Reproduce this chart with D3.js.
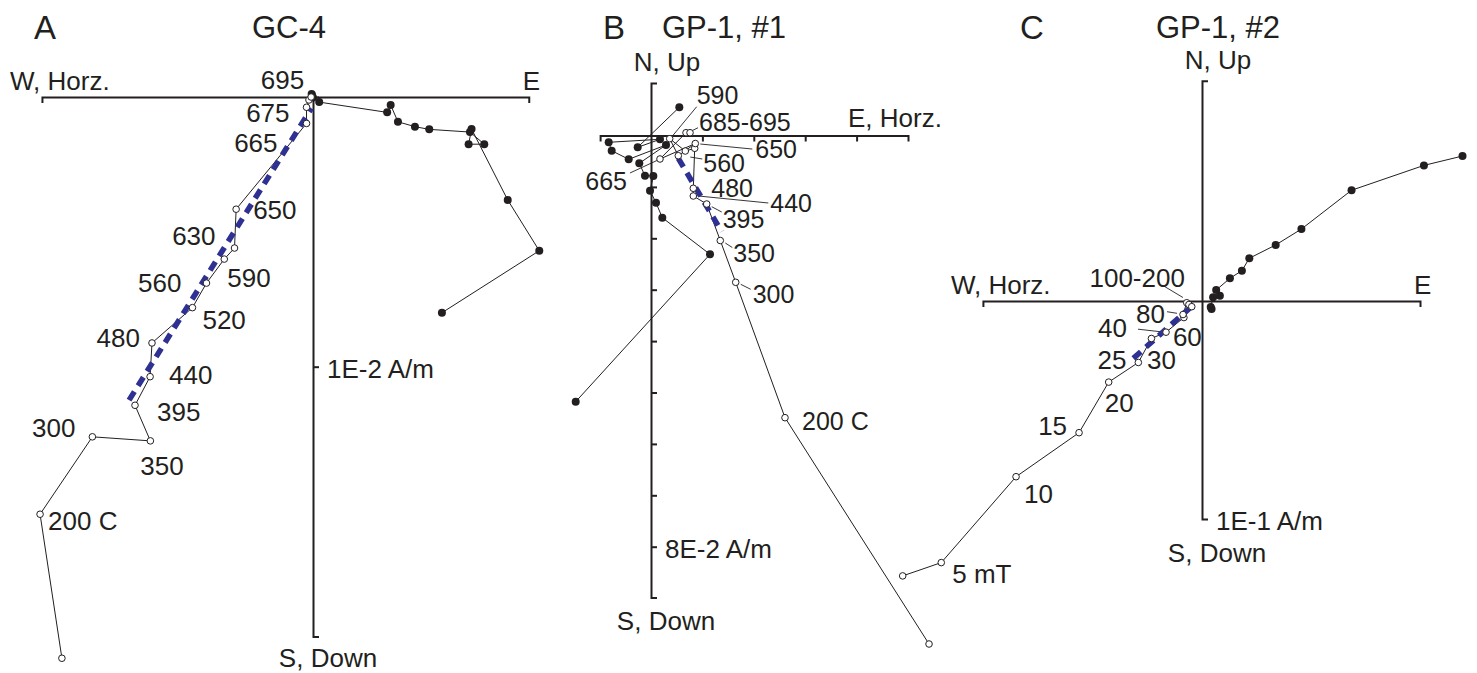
<!DOCTYPE html>
<html lang="en">
<head>
<meta charset="UTF-8">
<title>Orthogonal demagnetization diagrams</title>
<style>
  body { margin: 0; background: #fff; }
  svg { display: block; font-family: 'Liberation Sans', Arial, Helvetica, sans-serif; }
  text { fill: #231f20; }
</style>
</head>
<body>
<script src="https://d3js.org/d3.v7.min.js"></script>
<script>
  // ---- A: GC-4, thermal steps (units of 1E-3 A/m) ----
  const stepsA = ['NRM','200','300','350','395','440','480','520','560','590','630','650','665','675','685','695'];
  // filled = horizontal projection [E, N]
  const horizA = [[4.78,-8.00],[8.39,-5.70],[7.22,-3.82],[5.88,-1.19],[5.77,-1.75],[6.35,-1.75],[5.82,-1.30],
    [4.31,-1.20],[3.78,-1.10],[3.15,-0.92],[2.88,-0.30],[2.75,-0.57],[0.23,-0.19],[0.00,-0.02],[-0.04,0.07],[-0.05,0.11]];
  // open = vertical projection [Horz, Up]
  const vertA = [[-9.31,-20.81],[-10.12,-15.47],[-8.18,-12.60],[-6.03,-12.75],[-6.60,-11.43],[-6.04,-10.37],[-5.97,-9.12],
    [-4.47,-7.81],[-3.95,-6.90],[-3.29,-6.01],[-2.91,-5.60],[-2.85,-4.16],[-0.24,-0.98],[-0.24,-0.38],[-0.15,-0.11],[-0.07,0.0]];
  const fitA = [[-6.82,-11.24],[-0.06,-0.42]];

  // ---- B: GP-1 #1, thermal steps (units of 1E-2 A/m) ----
  const stepsB = ['NRM','200','300','350','395','440','480','520','560','590','630','650','665','685','695'];
  const horizB = [[-1.465,-5.179],[1.148,-2.311],[0.220,-1.599],[0.097,-1.307],[-0.019,-1.074],[0.045,-0.788],[-0.117,-0.782],
    [-0.228,-0.541],[0.292,-0.185],[-0.434,-0.463],[-0.765,-0.296],[-0.823,-0.132],[0.175,-0.074],[-0.259,-0.230],[0.551,0.549]];
  const vertB = [[5.409,-9.893],[2.607,-5.490],[1.648,-2.856],[1.348,-2.043],[1.084,-1.333],[0.823,-1.177],[0.823,-1.027],
    [0.850,-0.249],[0.667,-0.302],[0.364,-0.062],[0.531,-0.393],[0.862,-0.156],[0.175,-0.457],[0.681,0.054],[0.759,0.054]];
  const fitB = [[0.531,-0.444],[1.375,-1.872]];

  // ---- C: GP-1 #2, AF steps in mT (units of 1E-1 A/m) ----
  const stepsC = ['NRM','5','10','15','20','25','30','40','60','80','100','150','200'];
  const horizC = [[1.195,0.665],[1.018,0.622],[0.686,0.508],[0.456,0.330],[0.338,0.257],[0.217,0.196],[0.183,0.139],
    [0.128,0.104],[0.065,0.050],[0.082,0.024],[0.051,0.017],[0.040,-0.028],[0.044,-0.037]];
  const vertC = [[-1.373,-1.261],[-1.196,-1.200],[-0.853,-0.806],[-0.564,-0.604],[-0.428,-0.372],[-0.292,-0.282],[-0.232,-0.172],
    [-0.165,-0.143],[-0.083,-0.076],[-0.087,-0.062],[-0.070,-0.008],[-0.060,-0.016],[-0.047,-0.026]];
  const fitC = [[-0.315,-0.263],[-0.032,-0.011]];

  const INK = '#231f20', BLUE = '#2e3192';

  // step labels: i = index of open point, offset in px, anchor, optional leader [x1,y1,x2,y2]
  const labelsA = [
    {t:'695', i:15, dx:-7, dy:-17, a:'end'}, {t:'675', i:13, dx:-17, dy:6, a:'end'},
    {t:'665', i:12, dx:-29, dy:19, a:'end'}, {t:'650', i:11, dx:17, dy:1, a:'start'},
    {t:'630', i:10, dx:-19, dy:-12, a:'end'}, {t:'590', i:9, dx:3, dy:19, a:'start'},
    {t:'560', i:8, dx:-25, dy:0, a:'end'}, {t:'520', i:7, dx:10, dy:12, a:'start'},
    {t:'480', i:6, dx:-12, dy:-5, a:'end'}, {t:'440', i:5, dx:19, dy:-2, a:'start'},
    {t:'395', i:4, dx:22, dy:7, a:'start'}, {t:'350', i:3, dx:-10, dy:25, a:'start'},
    {t:'300', i:2, dx:-17, dy:-9, a:'end'}, {t:'200 C', i:1, dx:8, dy:7, a:'start'}
  ];
  const labelsB = [
    {t:'200 C', i:1, dx:17, dy:4, a:'start'},
    {t:'300', i:2, dx:17, dy:12, a:'start', l:[5,2,15,7]},
    {t:'350', i:3, dx:13, dy:12.5, a:'start', l:[5,2.5,12,7]},
    {t:'395', i:4, dx:16, dy:15, a:'start', l:[5,2.7,15,8]},
    {t:'440', i:5, dx:77, dy:7, a:'start', l:[5,0,75,7]},
    {t:'480', i:6, dx:18, dy:0, a:'start'},
    {t:'560', i:8, dx:18, dy:12, a:'start', l:[5,6,17,8]},
    {t:'590', i:9, dx:27, dy:-43, a:'start', l:[3,-3,27,-32]},
    {t:'650', i:11, dx:60, dy:5.5, a:'start', l:[5,0.5,57,5.5]},
    {t:'665', i:12, dx:-33, dy:22, a:'end', l:[-2,1,-30,14]},
    {t:'685-695', i:14, dx:9, dy:-10, a:'start', l:[2,-2,8,-5]}
  ];
  const labelsC = [
    {t:'5 mT', i:1, dx:11, dy:11, a:'start'}, {t:'10', i:2, dx:8, dy:17, a:'start'},
    {t:'15', i:3, dx:-12, dy:-7, a:'end'}, {t:'20', i:4, dx:-4, dy:21, a:'start'},
    {t:'25', i:5, dx:-12, dy:-2.5, a:'end'}, {t:'30', i:6, dx:-4.5, dy:21.5, a:'start'},
    {t:'40', i:7, dx:-39, dy:-4, a:'end', l:[-6,-0.5,-28,-3]},
    {t:'60', i:8, dx:-11, dy:19, a:'start'},
    {t:'80', i:9, dx:-18, dy:-1, a:'end', l:[-6,-1.2,-16,-2.8]},
    {t:'100-200', i:11, dx:-4, dy:-27, a:'end', l:[-6,-7,-26,-19]}
  ];

  const panels = [
    { letter:'A', title:'GC-4', ox:313, oy:97, k:26.97, xDom:[-10.05,8.0], yDom:[-20,0],
      xTicks:[], yTicks:[-10], horiz:horizA, vert:vertA, fit:fitA, labels:labelsA, labelSize:26, unit:'1E-2 A/m', unitAt:-10,
      letterX:34, titleX:289, west:'W, Horz.', east:'E', north:null, south:'S, Down', southGap:21 },
    { letter:'B', title:'GP-1, #1', ox:651, oy:135.5, k:51.4, xDom:[-0.99,5.0], yDom:[-8.99,1.02],
      xTicks:[1,2,3,4], yTicks:[-1,-2,-3,-4,-5,-6,-7,-8], horiz:horizB, vert:vertB, fit:fitB, labels:labelsB, labelSize:25,
      unit:'8E-2 A/m', unitAt:-8, letterX:603, titleX:724, west:null, east:'E, Horz.', north:'N, Up', south:'S, Down', southGap:23 },
    { letter:'C', title:'GP-1, #2', ox:1202, oy:301, k:218, xDom:[-1.005,1.0], yDom:[-1.0,1.01],
      xTicks:[], yTicks:[], horiz:horizC, vert:vertC, fit:fitC, labels:labelsC, labelSize:26, unit:'1E-1 A/m', unitAt:-1,
      letterX:1020, titleX:1218, west:'W, Horz.', east:'E', north:'N, Up', south:'S, Down', southGap:34 }
  ];

  const svg = d3.select('body').append('svg')
    .attr('width', 1477)
    .attr('height', 673);

  function addText(g, str, x, y, anchor, size) {
    g.append('text')
      .attr('x', x).attr('y', y).attr('dy', '0.35em')
      .attr('text-anchor', anchor)
      .style('font-size', (size || 26) + 'px')
      .text(str);
  }

  panels.forEach(p => {
    const x = d3.scaleLinear().domain(p.xDom).range(p.xDom.map(v => p.ox + v * p.k));
    const y = d3.scaleLinear().domain(p.yDom).range(p.yDom.map(v => p.oy - v * p.k));
    const g = svg.append('g');

    // axes through the origin
    g.append('g').attr('transform', `translate(0,${y(0)})`)
      .call(d3.axisBottom(x).tickValues(p.xTicks).tickFormat('').tickSizeInner(6).tickSizeOuter(6));
    g.append('g').attr('transform', `translate(${x(0)},0)`)
      .call(d3.axisRight(y).tickValues(p.yTicks).tickFormat('').tickSizeInner(6).tickSizeOuter(6));
    g.selectAll('.domain, .tick line').attr('stroke', INK).attr('stroke-width', 2);

    const line = d3.line().x(d => x(d[0])).y(d => y(d[1]));

    g.append('path').attr('d', line(p.horiz))
      .attr('fill', 'none').attr('stroke', INK).attr('stroke-width', 1);
    g.append('path').attr('d', line(p.vert))
      .attr('fill', 'none').attr('stroke', INK).attr('stroke-width', 1);

    // label leader lines
    p.labels.filter(d => d.l).forEach(d => {
      const px = x(p.vert[d.i][0]), py = y(p.vert[d.i][1]);
      g.append('line')
        .attr('x1', px + d.l[0]).attr('y1', py + d.l[1])
        .attr('x2', px + d.l[2]).attr('y2', py + d.l[3])
        .attr('stroke', INK).attr('stroke-width', 0.9);
    });

    // principal component fit
    g.append('path').attr('d', line(p.fit))
      .attr('fill', 'none').attr('stroke', BLUE).attr('stroke-width', 5.5)
      .attr('stroke-dasharray', '10,7');

    g.selectAll('circle.h').data(p.horiz).join('circle').attr('class', 'h')
      .attr('cx', d => x(d[0])).attr('cy', d => y(d[1]))
      .attr('r', 4).attr('fill', INK);
    g.selectAll('circle.v').data(p.vert).join('circle').attr('class', 'v')
      .attr('cx', d => x(d[0])).attr('cy', d => y(d[1]))
      .attr('r', 3.3).attr('fill', '#fff').attr('stroke', INK).attr('stroke-width', 1);

    p.labels.forEach(d => {
      addText(g, d.t, x(p.vert[d.i][0]) + d.dx, y(p.vert[d.i][1]) + d.dy, d.a, p.labelSize);
    });

    // axis names, title
    addText(g, p.letter, p.letterX, 27, 'start', 33);
    addText(g, p.title, p.titleX, 27, 'middle', 31);
    if (p.west) addText(g, p.west, x(p.xDom[0]) - 32, y(0) - 16, 'start');
    if (p.east === 'E') addText(g, 'E', x(p.xDom[1]) - 6, y(0) - 16, 'start');
    else addText(g, p.east, x(p.xDom[1]) - 60, y(0) - 18, 'start');
    if (p.north) addText(g, p.north, x(0) + 16, y(p.yDom[1]) - 21, 'middle');
    addText(g, p.south, x(0) + 15, y(p.yDom[0]) + p.southGap, 'middle');
    addText(g, p.unit, x(0) + 14, y(p.unitAt) + 2, 'start');
  });
</script>
</body>
</html>
